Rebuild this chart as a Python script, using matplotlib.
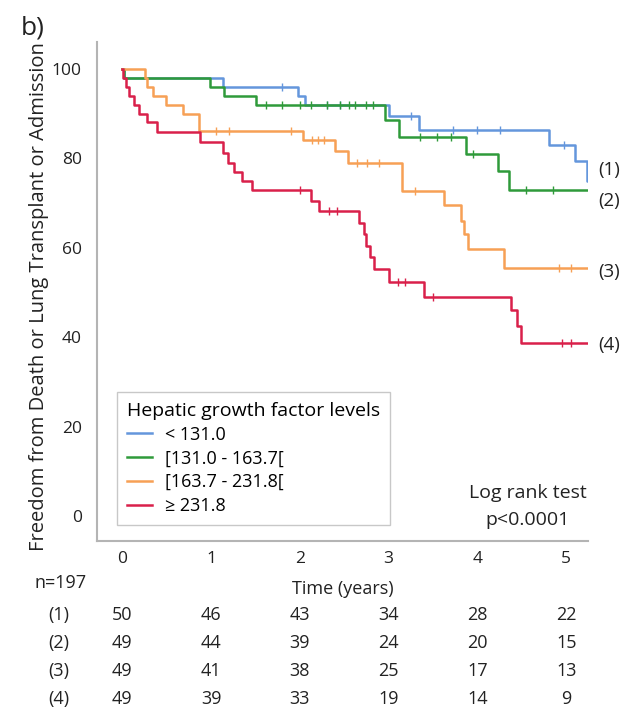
import numpy as np
import matplotlib.pyplot as plt
from matplotlib.transforms import blended_transform_factory

plt.rcParams['font.family'] = ['Open Sans', 'DejaVu Sans']

# Kaplan-Meier steps: time of each drop (years) and survival (%) after it
t_1 = [0, 0.02, 1.13, 1.98, 2.06, 3.00, 3.34, 4.81, 5.10, 5.24]
s_1 = [100, 98, 96, 94, 91.8, 89.4, 86.4, 82.9, 79.4, 74.9]
c_1 = [1.80, 2.30, 2.45, 3.25, 3.72, 4.00, 4.25, 4.97]

t_2 = [0, 0.02, 0.99, 1.14, 1.51, 2.96, 3.12, 3.87, 4.23, 4.36]
s_2 = [100, 98, 96, 94, 91.8, 88.6, 84.8, 81.0, 77.2, 73.0]
c_2 = [1.62, 1.80, 2.00, 2.12, 2.30, 2.45, 2.55, 2.62, 2.75, 2.82, 3.35, 3.55, 3.70, 3.95, 4.55, 4.85]

t_3 = [0, 0.25, 0.28, 0.34, 0.49, 0.68, 0.86, 2.04, 2.40, 2.54, 3.15, 3.62, 3.81, 3.85, 3.89, 4.30]
s_3 = [100, 98, 96, 94, 92, 90, 86.2, 84.1, 81.6, 79.0, 72.6, 69.5, 66.0, 63.0, 59.8, 55.5]
c_3 = [1.05, 1.20, 1.90, 2.14, 2.20, 2.27, 2.64, 2.76, 2.89, 3.30, 4.92, 5.06]

t_4 = [0, 0.01, 0.04, 0.08, 0.13, 0.19, 0.28, 0.39, 0.88, 1.13, 1.19, 1.26, 1.35, 1.46,
       2.13, 2.21, 2.67, 2.72, 2.75, 2.79, 2.83, 3.00, 3.40, 4.38, 4.45, 4.49]
s_4 = [100, 98, 96, 94, 92, 90, 88, 85.8, 83.7, 81.1, 79.0, 77.0, 75.0, 72.8,
       70.4, 68.2, 65.6, 63.0, 60.5, 58.0, 55.2, 52.4, 49.1, 46.0, 42.4, 38.8]
c_4 = [2.00, 2.33, 2.42, 3.10, 3.18, 3.50, 4.95, 5.05]

t_end = 5.25
groups = ['< 131.0', '[131.0 - 163.7[', '[163.7 - 231.8[', '\u2265 231.8']
curve_tags = ['(1)', '(2)', '(3)', '(4)']
colors = ['#6496dc', '#2f9a3a', '#f7a055', '#d9204a']

# number at risk
risk_times = [0, 1, 2, 3, 4, 5]
risk_1 = [50, 46, 43, 34, 28, 22]
risk_2 = [49, 44, 39, 24, 20, 15]
risk_3 = [49, 41, 38, 25, 17, 13]
risk_4 = [49, 39, 33, 19, 14, 9]

txt = '#222222'
fig = plt.figure(figsize=(6.34, 7.23), dpi=100)
ax = fig.add_axes([0.153, 0.252, 0.775, 0.690])

series = [(t_1, s_1, c_1), (t_2, s_2, c_2), (t_3, s_3, c_3), (t_4, s_4, c_4)]
for (t, s, c), col, lab in zip(series, colors, groups):
    t = np.array(t + [t_end])
    s = np.array(s + [s[-1]])
    ax.step(t, s, where='post', color=col, lw=1.8, label=lab)
    idx = np.searchsorted(t, c, side='right') - 1
    ax.plot(c, s[idx], ls='none', marker='|', ms=6, mew=1.0, color=col)

# tags at the end of each curve
tag_y = [77.3, 70.5, 54.6, 38.3]
for tag, y in zip(curve_tags, tag_y):
    ax.text(5.48, y, tag, fontsize=13.5, ha='center', va='center', color=txt,
            clip_on=False)

ax.set_xlim(-0.286, t_end)
ax.set_ylim(-5.5, 106)
ax.set_xticks(risk_times)
ax.set_yticks([0, 20, 40, 60, 80, 100])
ax.tick_params(length=0, labelsize=12.5, labelcolor=txt)
ax.tick_params(axis='y', pad=11)
ax.tick_params(axis='x', pad=7)
for side in ['top', 'right']:
    ax.spines[side].set_visible(False)
for side in ['left', 'bottom']:
    ax.spines[side].set_color('#b4b4b4')
    ax.spines[side].set_linewidth(1.5)

ax.set_ylabel('Freedom from Death or Lung Transplant or Admission', fontsize=14.5,
              color=txt)
ax.yaxis.set_label_coords(-0.098, 0.49)
ax.set_xlabel('Time (years)', fontsize=13, color=txt)
ax.xaxis.set_label_coords(0.5, -0.078)

leg = ax.legend(title='Hepatic growth factor levels', loc='lower left',
                bbox_to_anchor=(0.041, 0.032), borderaxespad=0, fontsize=13,
                title_fontsize=14, fancybox=False, edgecolor='#c8c8c8',
                framealpha=1, handlelength=1.4, handletextpad=0.7,
                labelspacing=0.32, borderpad=0.55, alignment='left')
leg.get_frame().set_linewidth(1.0)

ax.text(4.57, 2.2, 'Log rank test\np<0.0001', fontsize=14, ha='center', va='center',
        linespacing=1.6, color=txt)

# number-at-risk table under the axis
tr = blended_transform_factory(ax.transData, fig.transFigure)
row_y = [1 - 615 / 723, 1 - 643 / 723, 1 - 671 / 723, 1 - 699 / 723]
for risk, tag, y in zip([risk_1, risk_2, risk_3, risk_4], curve_tags, row_y):
    fig.text(0.093, y, tag, fontsize=13, ha='center', va='center', color=txt)
    for x, n in zip(risk_times, risk):
        ax.text(x, y, str(n), transform=tr, fontsize=13, ha='center', va='center',
                color=txt)
fig.text(0.095, 1 - 583 / 723, 'n=197', fontsize=13, ha='center', va='center',
         color=txt)

fig.text(0.032, 0.978, 'b)', fontsize=19, ha='left', va='top', color=txt)

fig.savefig('out.png', dpi=100)
